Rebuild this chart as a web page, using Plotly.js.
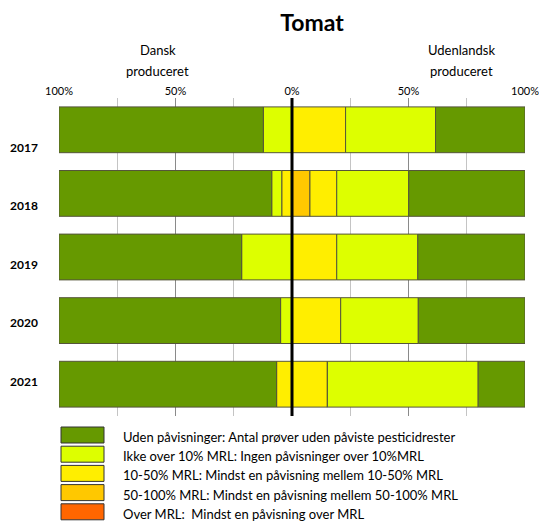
<!DOCTYPE html>
<html>
<head>
<meta charset="utf-8">
<script src="https://cdn.plot.ly/plotly-3.0.1.min.js"></script>
<style>html,body{margin:0;padding:0;background:#fff;}#chart{width:539px;height:521px;}</style>
</head>
<body>
<div id="chart"></div>
<script>
// ---- data (percent of samples) ----
const years = ["2017", "2018", "2019", "2020", "2021"];
const categories = [
  "Over MRL:  Mindst en påvisning over MRL",
  "50-100% MRL: Mindst en påvisning mellem 50-100% MRL",
  "10-50% MRL: Mindst en påvisning mellem 10-50% MRL",
  "Ikke over 10% MRL: Ingen påvisninger over 10%MRL",
  "Uden påvisninger: Antal prøver uden påviste pesticidrester"
];
const colors = ["#FF6600", "#FFC800", "#FFEE00", "#DDFF00", "#669900"];
// Danish produced (drawn to the left)
const dkOver    = [0, 0, 0, 0, 0];
const dk50_100  = [0, 0, 0, 0, 0];
const dk10_50   = [0, 4.4, 0, 0, 6.6];
const dkIkke    = [12.3, 4.3, 21.6, 4.9, 0];
const dkUden    = [87.7, 91.3, 78.4, 95.1, 93.4];
// Foreign produced (drawn to the right)
const udOver    = [0, 0, 0, 0, 0];
const ud50_100  = [0, 7.7, 0, 0, 0];
const ud10_50   = [23.0, 11.5, 19.2, 20.9, 15.2];
const udIkke    = [38.6, 30.9, 34.8, 33.3, 64.7];
const udUden    = [38.4, 49.9, 46.0, 45.8, 20.1];
const tickVals  = [-100, -50, 0, 50, 100];
const tickText  = ["100%", "50%", "0%", "50%", "100%"];
const sideLabels = [["Dansk", "produceret"], ["Udenlandsk", "produceret"]];
const chartTitle = "Tomat";

const dkSeries = [dkOver, dk50_100, dk10_50, dkIkke, dkUden];
const udSeries = [udOver, ud50_100, ud10_50, udIkke, udUden];

// ---- layout constants ----
const W = 539, H = 521;
const L = 59, R = 14, T = 98, B = 105;
const plotW = W - L - R, plotH = H - T - B;
const px = x => (x - L) / plotW;
const py = y => (H - B - y) / plotH;
const FONT = "Lato, 'Open Sans', sans-serif";
const outline = {color: "#55553a", width: 1};

const traces = [];
categories.forEach((c, i) => {
  traces.push({
    type: "bar", orientation: "h", name: c, y: years,
    x: dkSeries[i].map(v => -v), marker: {color: colors[i], line: outline},
    showlegend: false, hoverinfo: "skip"
  });
  traces.push({
    type: "bar", orientation: "h", name: c, y: years,
    x: udSeries[i], marker: {color: colors[i], line: outline},
    showlegend: false, hoverinfo: "skip"
  });
});

const annotations = [];
const shapes = [];
// zero line
shapes.push({type: "line", xref: "x", yref: "paper", x0: 0, x1: 0, y0: 0, y1: 1,
  line: {color: "#000", width: 3}, layer: "above"});
// side labels
[[157.5], [461.5]].forEach((p, k) => {
  sideLabels[k].forEach((t, j) => {
    annotations.push({text: t, xref: "paper", yref: "paper", x: px(p[0]), y: py(50 + j * 20.7),
      showarrow: false, xanchor: "center", yanchor: "middle",
      font: {family: FONT, size: 13, color: "#000"}});
  });
});
// year labels
years.forEach((yr, i) => {
  annotations.push({text: "<b>" + yr + "</b>", xref: "paper", yref: "paper",
    x: px(24), y: py(147 + 58.5 * i), showarrow: false, xanchor: "center", yanchor: "middle",
    font: {family: FONT, size: 12, color: "#000"}});
});
// manual legend (reverse order: Uden on top)
const legOrder = [4, 3, 2, 1, 0];
legOrder.forEach((ci, r) => {
  const cy = 435 + 19.2 * r;
  shapes.push({type: "rect", xref: "paper", yref: "paper",
    x0: px(61), x1: px(104), y0: py(cy - 8), y1: py(cy + 8),
    fillcolor: colors[ci], line: {color: "#333", width: 1}});
  annotations.push({text: categories[ci], xref: "paper", yref: "paper",
    x: px(121), y: py(cy + 2), showarrow: false, xanchor: "left", yanchor: "middle",
    font: {family: FONT, size: 13, color: "#000"}});
});

const layout = {
  width: W, height: H,
  margin: {l: L, r: R, t: T, b: B, pad: 0},
  paper_bgcolor: "#fff", plot_bgcolor: "#fff",
  barmode: "relative", bargap: 0.28,
  showlegend: false,
  title: {text: "<b>" + chartTitle + "</b>", xref: "container", yref: "container",
    x: 312 / W, y: 1 - 23 / H, xanchor: "center", yanchor: "middle",
    font: {family: FONT, size: 23, color: "#000"}},
  xaxis: {range: [-100, 100], side: "top", tickmode: "array", tickvals: tickVals, ticktext: tickText,
    showgrid: true, gridcolor: "#8a8a8a", gridwidth: 1, zeroline: false, ticks: "",
    ticklabeloverflow: "allow",
    tickfont: {family: FONT, size: 11, color: "#000"}, fixedrange: true,
    minor: {tickmode: "linear", tick0: 0, dtick: 25, showgrid: true, gridcolor: "#c4c4c4", gridwidth: 1, ticks: ""}},
  yaxis: {type: "category", autorange: false, range: [4.5, -0.5], showticklabels: false,
    showgrid: false, zeroline: false, ticks: "", fixedrange: true},
  shapes: shapes, annotations: annotations
};

Plotly.newPlot("chart", traces, layout, {staticPlot: true, displayModeBar: false});
</script>
</body>
</html>
